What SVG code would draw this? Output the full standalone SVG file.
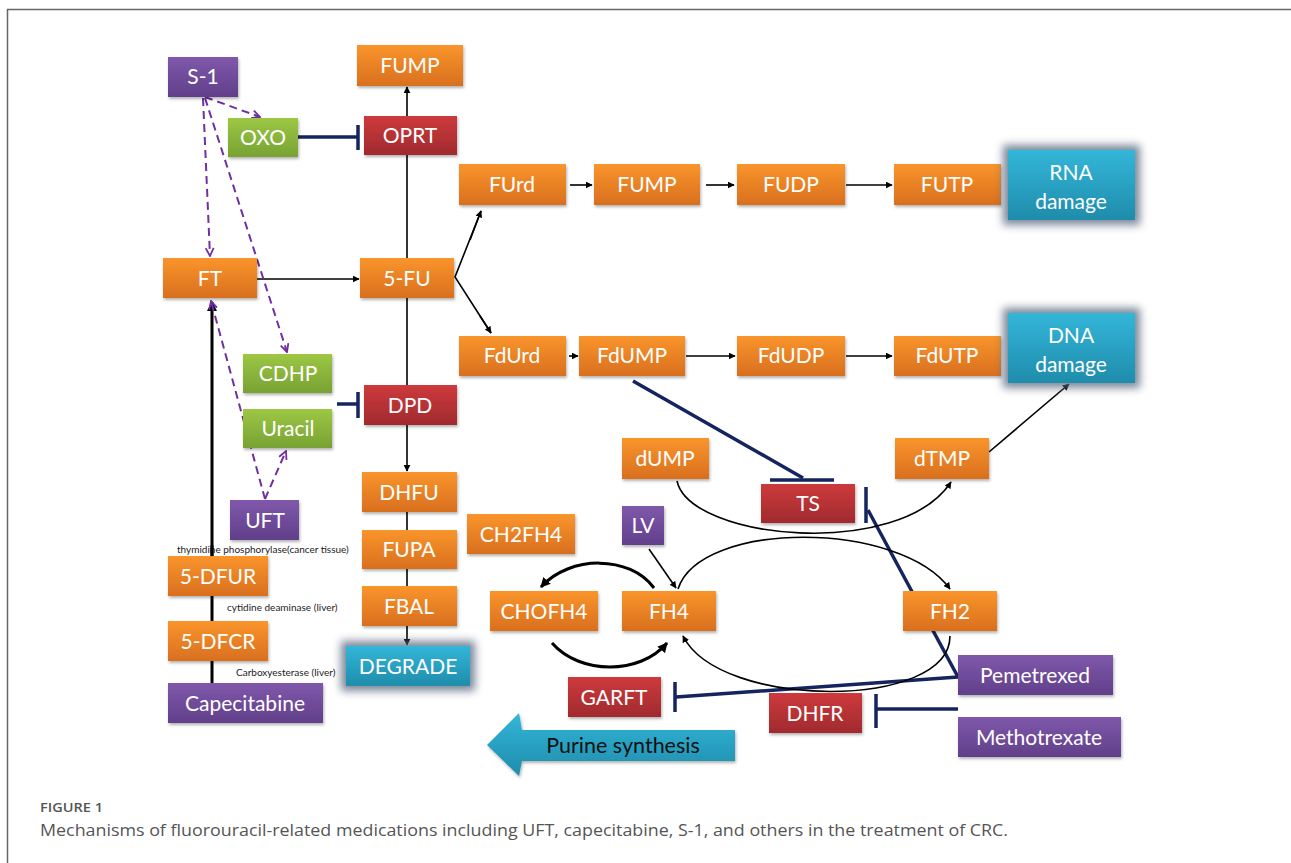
<svg xmlns="http://www.w3.org/2000/svg" width="1291" height="863" viewBox="0 0 1291 863">
<defs>
<linearGradient id="gO" x1="0" y1="0" x2="0" y2="1"><stop offset="0" stop-color="#f9952c"/><stop offset="1" stop-color="#d96f1e"/></linearGradient>
<linearGradient id="gR" x1="0" y1="0" x2="0" y2="1"><stop offset="0" stop-color="#cd3a3c"/><stop offset="1" stop-color="#a02a2e"/></linearGradient>
<linearGradient id="gP" x1="0" y1="0" x2="0" y2="1"><stop offset="0" stop-color="#7f58ab"/><stop offset="1" stop-color="#613f8a"/></linearGradient>
<linearGradient id="gG" x1="0" y1="0" x2="0" y2="1"><stop offset="0" stop-color="#9dc744"/><stop offset="1" stop-color="#77a233"/></linearGradient>
<linearGradient id="gB" x1="0" y1="0" x2="0" y2="1"><stop offset="0" stop-color="#33b6d9"/><stop offset="1" stop-color="#1f8cab"/></linearGradient>
<filter id="sh" x="-10%" y="-10%" width="130%" height="140%"><feDropShadow dx="1" dy="2" stdDeviation="1.5" flood-color="#000" flood-opacity="0.3"/></filter>
<filter id="glow" x="-20%" y="-30%" width="140%" height="160%"><feGaussianBlur stdDeviation="4"/></filter>
<marker id="ar" viewBox="0 0 10 10" refX="9" refY="5" markerWidth="7" markerHeight="7" orient="auto" markerUnits="userSpaceOnUse"><path d="M0,0 L10,5 L0,10 z" fill="#000"/></marker>
<marker id="arB" viewBox="0 0 10 10" refX="9" refY="5" markerWidth="10" markerHeight="10" orient="auto" markerUnits="userSpaceOnUse"><path d="M0,0 L10,5 L0,10 z" fill="#000"/></marker>
<marker id="ad" viewBox="0 0 10 10" refX="9" refY="5" markerWidth="10" markerHeight="10" orient="auto" markerUnits="userSpaceOnUse"><path d="M1,1 L9,5 L1,9" fill="none" stroke="#7030a0" stroke-width="1.8"/></marker>
</defs>
<style>
.b{stroke:none;filter:url(#sh)}
.o{fill:url(#gO)}.r{fill:url(#gR)}.p{fill:url(#gP)}.g{fill:url(#gG)}.bl{fill:url(#gB)}
.t{font-family:Lato,"Open Sans","Liberation Sans",sans-serif;font-size:21px;fill:#fff;text-anchor:middle}
.s{font-family:Lato,"Open Sans","Liberation Sans",sans-serif;font-size:10px;fill:#222}
.ln{stroke:#000;stroke-width:1.6;fill:none}
.inh{stroke:#14245e;stroke-width:3.5;fill:none}
.da{stroke:#7030a0;stroke-width:2;stroke-dasharray:8,5;fill:none}
.halo{fill:#5a6a80;opacity:0.8;filter:url(#glow)}
.cap{font-family:"Open Sans",Lato,"Liberation Sans",sans-serif;fill:#555}
</style>
<rect x="0" y="0" width="1291" height="863" fill="#fff"/>
<path d="M7.5,863 V9.5 H1291" fill="none" stroke="#666" stroke-width="1.5"/>

<g id="connectors">
<line class="ln" x1="407" y1="116" x2="407" y2="87" marker-end="url(#ar)"/>
<line class="ln" x1="407" y1="258" x2="407" y2="155"/>
<line class="ln" x1="257" y1="279" x2="359" y2="279" marker-end="url(#ar)"/>
<polyline class="ln" points="481,211 455,277 491,333" />
<line class="ln" x1="470" y1="240" x2="481" y2="211" marker-end="url(#ar)"/>
<line class="ln" x1="480" y1="316" x2="491" y2="333" marker-end="url(#ar)"/>
<line class="ln" x1="570" y1="185" x2="592" y2="185" marker-end="url(#ar)"/>
<line class="ln" x1="706" y1="185" x2="734" y2="185" marker-end="url(#ar)"/>
<line class="ln" x1="846" y1="185" x2="892" y2="185" marker-end="url(#ar)"/>
<line class="ln" x1="569" y1="356" x2="578" y2="356" marker-end="url(#ar)"/>
<line class="ln" x1="686" y1="356" x2="735" y2="356" marker-end="url(#ar)"/>
<line class="ln" x1="846" y1="356" x2="892" y2="356" marker-end="url(#ar)"/>
<line class="ln" x1="407" y1="298" x2="407" y2="385"/>
<line class="ln" x1="407" y1="425" x2="407" y2="471" marker-end="url(#ar)"/>
<line class="ln" x1="407" y1="512" x2="407" y2="530"/>
<line class="ln" x1="407" y1="569" x2="407" y2="586"/>
<line class="ln" x1="407" y1="626" x2="407" y2="645" marker-end="url(#ar)"/>
<line x1="212" y1="683" x2="212" y2="302" stroke="#000" stroke-width="3" marker-end="url(#arB)"/>
<line class="inh" x1="298" y1="137" x2="357" y2="137"/><line class="inh" x1="358" y1="125" x2="358" y2="150"/>
<line class="inh" x1="337" y1="404" x2="357" y2="404"/><line class="inh" x1="358" y1="392" x2="358" y2="418"/>
<line class="inh" x1="633" y1="381" x2="803" y2="478"/><line class="inh" x1="770" y1="480" x2="834" y2="480"/>
<line class="inh" x1="958" y1="677" x2="868" y2="510"/><line class="inh" x1="866" y1="487" x2="866" y2="523"/>
<line class="inh" x1="958" y1="677" x2="676" y2="697"/><line class="inh" x1="675" y1="682" x2="675" y2="712"/>
<line class="inh" x1="958" y1="709" x2="877" y2="709"/><line class="inh" x1="876" y1="694" x2="876" y2="728"/>
<line class="da" x1="205" y1="97" x2="260" y2="117" marker-end="url(#ad)"/>
<line class="da" x1="203" y1="98" x2="210" y2="256" marker-end="url(#ad)"/>
<line class="da" x1="205" y1="98" x2="287" y2="352" marker-end="url(#ad)"/>
<line class="da" x1="265" y1="499" x2="211" y2="301" marker-end="url(#ad)"/>
<line class="da" x1="265" y1="499" x2="286" y2="451" marker-end="url(#ad)"/>
<line class="ln" x1="989" y1="452" x2="1069" y2="384" marker-end="url(#ar)"/>
<path class="ln" d="M677,481 C690,540 900,560 951,482" marker-end="url(#ar)"/>
<path class="ln" d="M678,589 C700,520 900,520 950,589" marker-end="url(#ar)"/>
<path class="ln" d="M950,636 C950,710 720,710 683,636" marker-end="url(#ar)"/>
<line class="ln" x1="649" y1="549" x2="676" y2="588" marker-end="url(#ar)"/>
<path d="M654,588 C630,555 570,555 541,587" fill="none" stroke="#000" stroke-width="3" marker-end="url(#arB)"/>
<path d="M552,643 C580,675 640,675 667,643" fill="none" stroke="#000" stroke-width="3" marker-end="url(#arB)"/>
</g>

<g id="labels-small">
<text class="s" x="177" y="553">thymidine phosphorylase(cancer tissue)</text>
<text class="s" x="227" y="611">cytidine deaminase  (liver)</text>
<text class="s" x="236" y="676">Carboxyesterase (liver)</text>
</g>
<line x1="212" y1="545" x2="212" y2="556" stroke="#000" stroke-width="3"/>

<g id="n-S1"><rect class="b p" x="168" y="57" width="70" height="40"/><text class="t" x="203" y="84">S-1</text></g>
<g id="n-FUMP-top"><rect class="b o" x="357" y="45" width="106" height="41"/><text class="t" x="410" y="73">FUMP</text></g>
<g id="n-OXO"><rect class="b g" x="228" y="118" width="70" height="39"/><text class="t" x="263" y="145">OXO</text></g>
<g id="n-OPRT"><rect class="b r" x="364" y="116" width="93" height="39"/><text class="t" x="410" y="143">OPRT</text></g>
<g id="n-FUrd"><rect class="b o" x="459" y="164" width="107" height="41"/><text class="t" x="512" y="192">FUrd</text></g>
<g id="n-FUMP"><rect class="b o" x="594" y="164" width="106" height="41"/><text class="t" x="647" y="192">FUMP</text></g>
<g id="n-FUDP"><rect class="b o" x="737" y="164" width="108" height="41"/><text class="t" x="791" y="192">FUDP</text></g>
<g id="n-FUTP"><rect class="b o" x="894" y="164" width="107" height="41"/><text class="t" x="947" y="192">FUTP</text></g>
<g id="n-RNA"><rect class="halo" x="1003" y="145" width="137" height="80"/><rect class="bl" x="1008" y="150" width="127" height="70"/><text class="t" x="1071" y="180">RNA</text><text class="t" x="1071" y="209">damage</text></g>
<g id="n-FT"><rect class="b o" x="163" y="258" width="94" height="40"/><text class="t" x="210" y="286">FT</text></g>
<g id="n-5FU"><rect class="b o" x="360" y="258" width="94" height="40"/><text class="t" x="407" y="286">5-FU</text></g>
<g id="n-FdUrd"><rect class="b o" x="459" y="336" width="107" height="40"/><text class="t" x="512" y="363">FdUrd</text></g>
<g id="n-FdUMP"><rect class="b o" x="579" y="336" width="106" height="40"/><text class="t" x="632" y="363">FdUMP</text></g>
<g id="n-FdUDP"><rect class="b o" x="737" y="336" width="108" height="40"/><text class="t" x="791" y="363">FdUDP</text></g>
<g id="n-FdUTP"><rect class="b o" x="894" y="336" width="107" height="40"/><text class="t" x="947" y="363">FdUTP</text></g>
<g id="n-DNA"><rect class="halo" x="1003" y="308" width="137" height="80"/><rect class="bl" x="1008" y="313" width="127" height="70"/><text class="t" x="1071" y="343">DNA</text><text class="t" x="1071" y="372">damage</text></g>
<g id="n-CDHP"><rect class="b g" x="243" y="354" width="89" height="39"/><text class="t" x="288" y="381">CDHP</text></g>
<g id="n-Uracil"><rect class="b g" x="243" y="409" width="89" height="39"/><text class="t" x="288" y="436">Uracil</text></g>
<g id="n-DPD"><rect class="b r" x="364" y="385" width="93" height="40"/><text class="t" x="410" y="413">DPD</text></g>
<g id="n-dUMP"><rect class="b o" x="622" y="438" width="87" height="41"/><text class="t" x="665" y="466">dUMP</text></g>
<g id="n-dTMP"><rect class="b o" x="895" y="438" width="94" height="41"/><text class="t" x="942" y="466">dTMP</text></g>
<g id="n-TS"><rect class="b r" x="761" y="484" width="94" height="39"/><text class="t" x="808" y="511">TS</text></g>
<g id="n-DHFU"><rect class="b o" x="362" y="472" width="95" height="40"/><text class="t" x="409" y="500">DHFU</text></g>
<g id="n-UFT"><rect class="b p" x="230" y="500" width="69" height="40"/><text class="t" x="265" y="528">UFT</text></g>
<g id="n-CH2FH4"><rect class="b o" x="467" y="514" width="108" height="40"/><text class="t" x="521" y="542">CH2FH4</text></g>
<g id="n-LV"><rect class="b p" x="622" y="506" width="42" height="39"/><text class="t" x="643" y="533">LV</text></g>
<g id="n-FUPA"><rect class="b o" x="362" y="530" width="95" height="39"/><text class="t" x="409" y="557">FUPA</text></g>
<g id="n-5DFUR"><rect class="b o" x="168" y="556" width="100" height="40"/><text class="t" x="218" y="584">5-DFUR</text></g>
<g id="n-CHOFH4"><rect class="b o" x="490" y="591" width="108" height="40"/><text class="t" x="544" y="619">CHOFH4</text></g>
<g id="n-FH4"><rect class="b o" x="622" y="591" width="94" height="40"/><text class="t" x="669" y="619">FH4</text></g>
<g id="n-FH2"><rect class="b o" x="903" y="591" width="94" height="40"/><text class="t" x="950" y="619">FH2</text></g>
<g id="n-FBAL"><rect class="b o" x="362" y="586" width="95" height="40"/><text class="t" x="409" y="614">FBAL</text></g>
<g id="n-5DFCR"><rect class="b o" x="168" y="621" width="100" height="40"/><text class="t" x="218" y="649">5-DFCR</text></g>
<g id="n-DEGRADE"><rect class="halo" x="341" y="641" width="134" height="50"/><rect class="bl" x="346" y="646" width="124" height="40"/><text class="t" x="408" y="674">DEGRADE</text></g>
<g id="n-Capecitabine"><rect class="b p" x="168" y="683" width="155" height="40"/><text class="t" x="245" y="711">Capecitabine</text></g>
<g id="n-Pemetrexed"><rect class="b p" x="958" y="655" width="155" height="40"/><text class="t" x="1035" y="683">Pemetrexed</text></g>
<g id="n-GARFT"><rect class="b r" x="568" y="677" width="93" height="40"/><text class="t" x="614" y="705">GARFT</text></g>
<g id="n-DHFR"><rect class="b r" x="769" y="693" width="93" height="40"/><text class="t" x="815" y="721">DHFR</text></g>
<g id="n-Methotrexate"><rect class="b p" x="958" y="717" width="163" height="40"/><text class="t" x="1039" y="745">Methotrexate</text></g>
<g id="n-Purine"><path class="b bl" d="M487,745 L519,713 L522,730 L735,730 L735,761 L522,761 L519,776 Z"/><text class="t" x="623" y="753" style="fill:#111;font-size:21.5px">Purine synthesis</text></g>

<g id="caption">
<text class="cap" x="40" y="812" style="font-size:13px;font-weight:600" textLength="63" lengthAdjust="spacingAndGlyphs">FIGURE 1</text>
<text class="cap" x="40" y="836" style="font-size:17px" textLength="968" lengthAdjust="spacingAndGlyphs">Mechanisms of fluorouracil-related medications including UFT, capecitabine, S-1, and others in the treatment of CRC.</text>
</g>
</svg>
